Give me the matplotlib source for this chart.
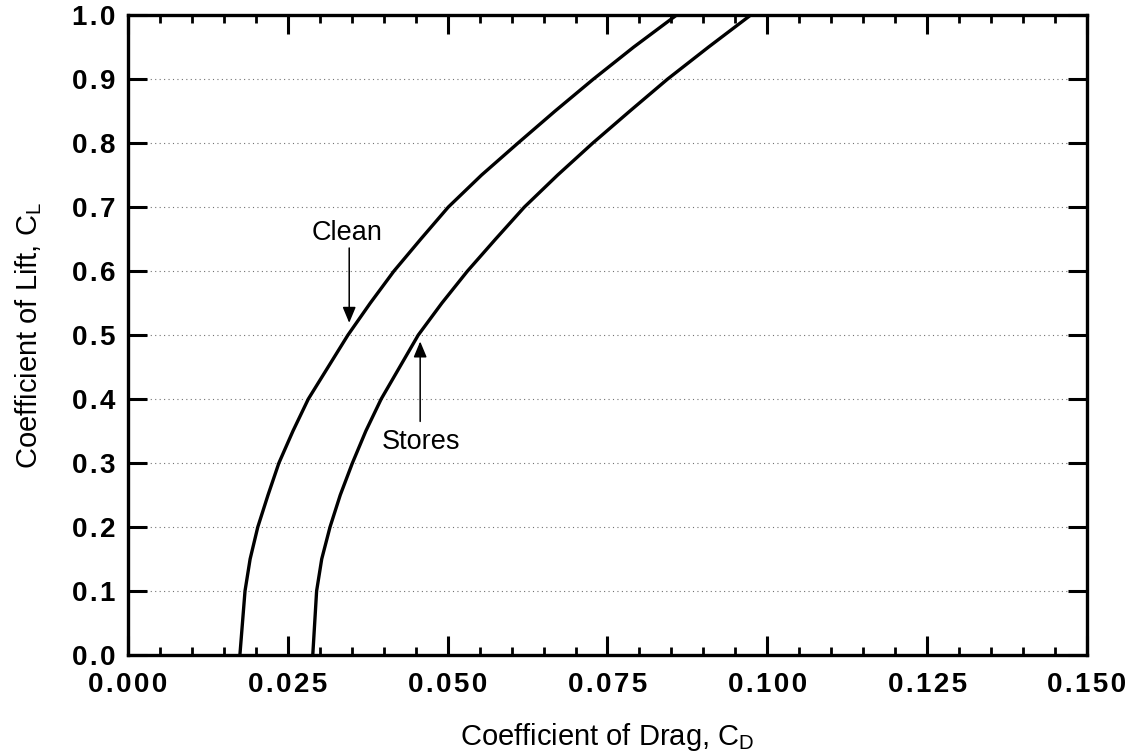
"""
Drag polar: lift coefficient vs drag coefficient, clean and with stores.
"""

import matplotlib
matplotlib.use("Agg")
import matplotlib.pyplot as plt
from matplotlib.ticker import MultipleLocator, FuncFormatter

# ----------------------------
# Data
# ----------------------------
cl_levels = [0.00, 0.05, 0.10, 0.15, 0.20, 0.25, 0.30, 0.35, 0.40, 0.45, 0.50,
             0.55, 0.60, 0.65, 0.70, 0.75, 0.80, 0.85, 0.90, 0.95, 1.00]
cd_clean = [0.0175, 0.0179, 0.0183, 0.0191, 0.0203, 0.0219, 0.0236, 0.0258,
            0.0282, 0.0313, 0.0344, 0.0379, 0.0416, 0.0458, 0.0501, 0.0553,
            0.0610, 0.0668, 0.0728, 0.0791, 0.0858]
cd_stores = [0.0289, 0.0292, 0.0295, 0.0303, 0.0316, 0.0332, 0.0351, 0.0372,
             0.0396, 0.0425, 0.0454, 0.0491, 0.0531, 0.0575, 0.0620, 0.0672,
             0.0727, 0.0785, 0.0844, 0.0908, 0.0974]

x_ticks = [0.000, 0.025, 0.050, 0.075, 0.100, 0.125, 0.150]
y_ticks = [0.0, 0.1, 0.2, 0.3, 0.4, 0.5, 0.6, 0.7, 0.8, 0.9, 1.0]

# annotation positions (text, arrow tail, arrow head) in data units
clean_note = ("Clean", (0.0343, 0.659), (0.0346, 0.636), (0.0346, 0.519))
stores_note = ("Stores", (0.0459, 0.333), (0.0457, 0.365), (0.0457, 0.490))

FONT = "Liberation Sans"


def spaced(value, digits):
    # the original tick labels have a little extra letter spacing
    s = f"{value:.{digits}f}"
    return "\u200a".join(s)


def main():
    plt.rcParams["font.family"] = [FONT, "DejaVu Sans"]

    fig = plt.figure(figsize=(11.39, 7.55), dpi=100)
    ax = fig.add_axes([0.1124, 0.1325, 0.8419, 0.8475])

    # curves
    ax.plot(cd_clean, cl_levels, color="black", lw=2.4, solid_capstyle="butt")
    ax.plot(cd_stores, cl_levels, color="black", lw=2.4, solid_capstyle="butt")

    ax.set_xlim(x_ticks[0], x_ticks[-1])
    ax.set_ylim(y_ticks[0], y_ticks[-1])

    ax.xaxis.set_major_locator(MultipleLocator(0.025))
    ax.xaxis.set_minor_locator(MultipleLocator(0.005))
    ax.yaxis.set_major_locator(MultipleLocator(0.1))
    ax.xaxis.set_major_formatter(FuncFormatter(lambda v, p: spaced(v, 3)))
    ax.yaxis.set_major_formatter(FuncFormatter(lambda v, p: spaced(v, 1)))

    ax.tick_params(which="major", direction="in", length=14, width=2.2,
                   top=True, right=True, labelsize=20, pad=12)
    ax.tick_params(which="minor", direction="in", length=6, width=2,
                   top=True, right=False)
    ax.tick_params(axis="y", which="major", pad=9)
    for lab in ax.get_xticklabels() + ax.get_yticklabels():
        lab.set_fontweight("bold")

    for spine in ax.spines.values():
        spine.set_linewidth(2.4)

    # dotted horizontal grid
    ax.grid(axis="y", which="major", linestyle=(0, (1, 3)), color="0.45", lw=0.8)

    ax.set_xlabel(r"Coefficient of Drag, $\mathregular{C_D}$", fontsize=21, labelpad=17)
    ax.set_ylabel(r"Coefficient of Lift, $\mathregular{C_L}$", fontsize=21, labelpad=20)

    for label, txt_xy, tail, head in (clean_note, stores_note):
        ax.text(txt_xy[0], txt_xy[1], label, fontsize=19.5, ha="center", va="center")
        ax.annotate("", xy=head, xytext=tail,
                    arrowprops=dict(arrowstyle="-|>,head_length=0.6,head_width=0.25",
                                    color="black", lw=1.1,
                                    mutation_scale=16, shrinkA=0, shrinkB=0))

    fig.savefig("out.png", dpi=100)


if __name__ == "__main__":
    main()
